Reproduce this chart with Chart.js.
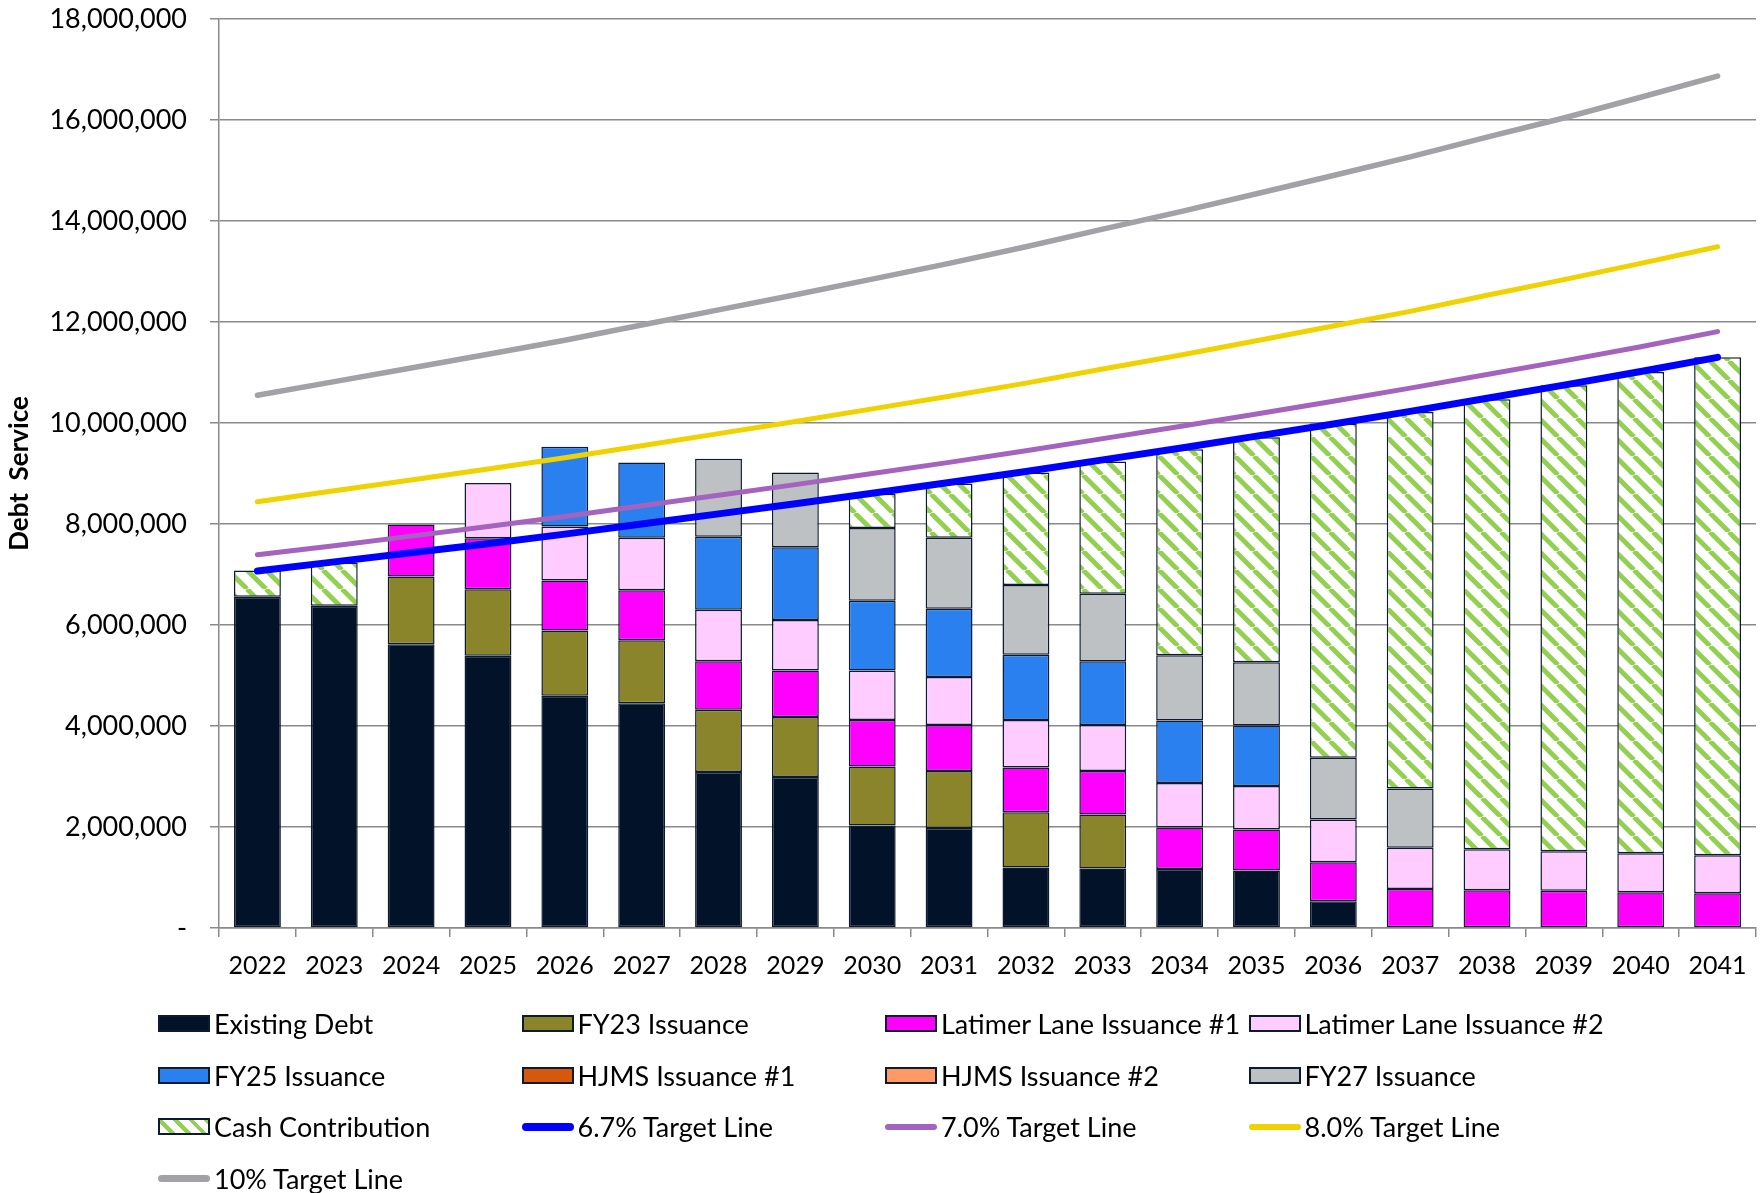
<!DOCTYPE html>
<html>
<head>
<meta charset="utf-8">
<script src="https://cdn.jsdelivr.net/npm/chart.js@4.4.1/dist/chart.umd.min.js"></script>
<style>
  html, body { margin: 0; padding: 0; background: #fff; }
  body { width: 1763px; height: 1193px; overflow: hidden; position: relative; font-family: Lato, 'Open Sans', sans-serif; }
  #wrap { position: absolute; left: 0; top: 0; width: 1763px; height: 999px; }
  #legend {
    position: absolute; left: 158px; top: 998px;
    display: grid; grid-template-columns: repeat(4, 363.5px); grid-auto-rows: 51.5px;
    align-items: center; font-size: 27px; color: #000;
  }
  .item { display: flex; align-items: center; white-space: nowrap; }
  .sw { width: 52px; height: 17px; box-sizing: border-box; border: 2px solid #0d1b2e; margin-right: 4px; flex: none; }
  .ln { width: 52px; margin-right: 4px; border-radius: 4px; flex: none; }
</style>
</head>
<body>
<div id="wrap"><canvas id="chart" width="1763" height="999"></canvas></div>
<div id="legend"></div>
<script>
// ── Data ─────────────────────────────────────────────────────────────────────

const YEARS = ['2022','2023','2024','2025','2026','2027','2028','2029','2030','2031',
               '2032','2033','2034','2035','2036','2037','2038','2039','2040','2041'];

const EXISTING  = [6560000, 6380000, 5620000, 5390000, 4600000, 4450000, 3090000, 2990000, 2030000, 1980000,
                   1200000, 1180000, 1170000, 1140000,  530000,       0,       0,       0,       0,       0];
const FY23      = [      0,       0, 1340000, 1320000, 1290000, 1250000, 1230000, 1190000, 1170000, 1130000,
                   1090000, 1070000,       0,       0,       0,       0,       0,       0,       0,       0];
const LATIMER1  = [      0,       0, 1030000, 1010000,  990000,  990000,  960000,  920000,  920000,  910000,
                    890000,  860000,  820000,  810000,  770000,  770000,  750000,  740000,  710000,  690000];
const LATIMER2  = [      0,       0,       0, 1090000, 1070000, 1040000, 1020000, 1000000,  980000,  950000,
                    940000,  910000,  880000,  860000,  850000,  820000,  810000,  780000,  770000,  750000];
const FY25      = [      0,       0,       0,       0, 1580000, 1490000, 1450000, 1440000, 1380000, 1350000,
                   1290000, 1260000, 1240000, 1200000,       0,       0,       0,       0,       0,       0];
const HJMS1     = [0,0,0,0,0,0,0,0,0,0,0,0,0,0,0,0,0,0,0,0];
const HJMS2     = [0,0,0,0,0,0,0,0,0,0,0,0,0,0,0,0,0,0,0,0];
const FY27      = [      0,       0,       0,       0,       0,       0, 1540000, 1480000, 1440000, 1410000,
                   1380000, 1340000, 1290000, 1250000, 1220000, 1170000,       0,       0,       0,       0];
const CASH      = [ 520000,  860000,       0,       0,       0,       0,       0,       0,  680000, 1070000,
                   2230000, 2620000, 4080000, 4460000, 6620000, 7460000, 8910000, 9230000, 9530000, 9860000];

const TARGET_67 = [ 7070000,  7250000,  7430000,  7610000,  7800000,  8000000,  8200000,  8400000,  8610000,  8820000,
                    9040000,  9270000,  9500000,  9740000,  9980000, 10230000, 10490000, 10750000, 11020000, 11300000];
const TARGET_70 = [ 7390000,  7570000,  7760000,  7950000,  8150000,  8360000,  8570000,  8780000,  9000000,  9220000,
                    9450000,  9690000,  9930000, 10180000, 10430000, 10690000, 10960000, 11230000, 11510000, 11810000];
const TARGET_80 = [ 8440000,  8660000,  8870000,  9090000,  9310000,  9550000,  9790000, 10030000, 10280000, 10530000,
                   10790000, 11070000, 11340000, 11630000, 11920000, 12210000, 12530000, 12840000, 13160000, 13490000];
const TARGET_10 = [10550000, 10820000, 11090000, 11360000, 11640000, 11940000, 12240000, 12540000, 12850000, 13160000,
                   13490000, 13840000, 14180000, 14540000, 14900000, 15270000, 15660000, 16040000, 16450000, 16870000];

const FONT    = 'Lato, "Open Sans", sans-serif';
const C_GRID  = '#8a8a8a';
const C_EDGE  = '#0d1b2e';
const C_GREEN = '#92d050';

// ── Helpers ──────────────────────────────────────────────────────────────────

// white tile with "\" green stripes for the cash contribution bars
function stripes() {
  const n = 19;
  const c = document.createElement('canvas');
  c.width = c.height = n;
  const g = c.getContext('2d');
  g.fillStyle = '#fff';
  g.fillRect(0, 0, n, n);
  g.strokeStyle = C_GREEN;
  g.lineWidth = 4.8;
  g.beginPath();
  [-n, 0, n].forEach(k => { g.moveTo(k, 0); g.lineTo(k + n, n); });
  g.stroke();
  return g.createPattern(c, 'repeat');
}

function bar(label, data, color, swatch) {
  return {
    type: 'bar', label, data, backgroundColor: color, swatch: swatch || color,
    borderColor: C_EDGE, borderWidth: 1.5, borderSkipped: false,
    barPercentage: 0.61, categoryPercentage: 1, stack: 'debt', order: 2,
  };
}

function line(label, data, color, width) {
  return {
    type: 'line', label, data, borderColor: color, backgroundColor: color, borderWidth: width,
    pointRadius: 0, tension: 0, borderCapStyle: 'round', stack: label, order: 1, lineSwatch: true,
  };
}

// ── Chart ────────────────────────────────────────────────────────────────────

Chart.defaults.font.family = FONT;
Chart.defaults.color = '#000';

const chart = new Chart(document.getElementById('chart'), {
  data: {
    labels: YEARS,
    datasets: [
      bar('Existing Debt', EXISTING, '#021229'),
      bar('FY23 Issuance', FY23, '#8a842b'),
      bar('Latimer Lane Issuance #1', LATIMER1, '#ff00ff'),
      bar('Latimer Lane Issuance #2', LATIMER2, '#ffccff'),
      bar('FY25 Issuance', FY25, '#2a80ee'),
      bar('HJMS Issuance #1', HJMS1, '#d5580b'),
      bar('HJMS Issuance #2', HJMS2, '#ff9966'),
      bar('FY27 Issuance', FY27, '#bec1c4'),
      bar('Cash Contribution', CASH, stripes(),
          'repeating-linear-gradient(45deg, #fff 0 7px, ' + C_GREEN + ' 7px 11px)'),
      line('6.7% Target Line', TARGET_67, '#0000ff', 7),
      line('7.0% Target Line', TARGET_70, '#a463bf', 5),
      line('8.0% Target Line', TARGET_80, '#f0d200', 5),
      line('10% Target Line', TARGET_10, '#a2a2a6', 5.5),
    ]
  },
  options: {
    responsive: false,
    animation: false,
    devicePixelRatio: 1,
    layout: { padding: { left: 4, right: 7, top: 0, bottom: 4 } },
    plugins: { legend: { display: false }, tooltip: { enabled: false } },
    scales: {
      x: {
        stacked: true,
        grid: { offset: true, drawOnChartArea: false, color: C_GRID, lineWidth: 1.5, tickLength: 9 },
        border: { color: C_GRID, width: 1.5 },
        ticks: { font: { size: 25 }, color: '#000', padding: 14, maxRotation: 0, autoSkip: false },
      },
      y: {
        stacked: true,
        min: 0, max: 18000000,
        grid: { color: C_GRID, lineWidth: 1.5, tickLength: 9 },
        border: { color: C_GRID, width: 1.5 },
        ticks: {
          stepSize: 2000000, font: { size: 27 }, color: '#000', padding: 23,
          callback: v => v === 0 ? '-' : v.toLocaleString('en-US'),
        },
        title: {
          display: true, text: 'Debt  Service', color: '#000',
          font: { size: 26, weight: 'bold' }, padding: { top: 0, bottom: 10 },
        },
        afterFit: s => { s.width = 215; s.paddingTop = 19; s.paddingBottom = 16; },
      },
    },
  },
});

// ── Legend ───────────────────────────────────────────────────────────────────

const legend = document.getElementById('legend');
chart.data.datasets.forEach(ds => {
  const item = document.createElement('div');
  item.className = 'item';
  const sw = document.createElement('span');
  if (ds.lineSwatch) {
    sw.className = 'ln';
    sw.style.height = (ds.borderWidth + 1) + 'px';
    sw.style.background = ds.borderColor;
  } else {
    sw.className = 'sw';
    sw.style.background = ds.swatch;
  }
  const txt = document.createElement('span');
  txt.textContent = ds.label;
  item.appendChild(sw);
  item.appendChild(txt);
  legend.appendChild(item);
});
</script>
</body>
</html>
